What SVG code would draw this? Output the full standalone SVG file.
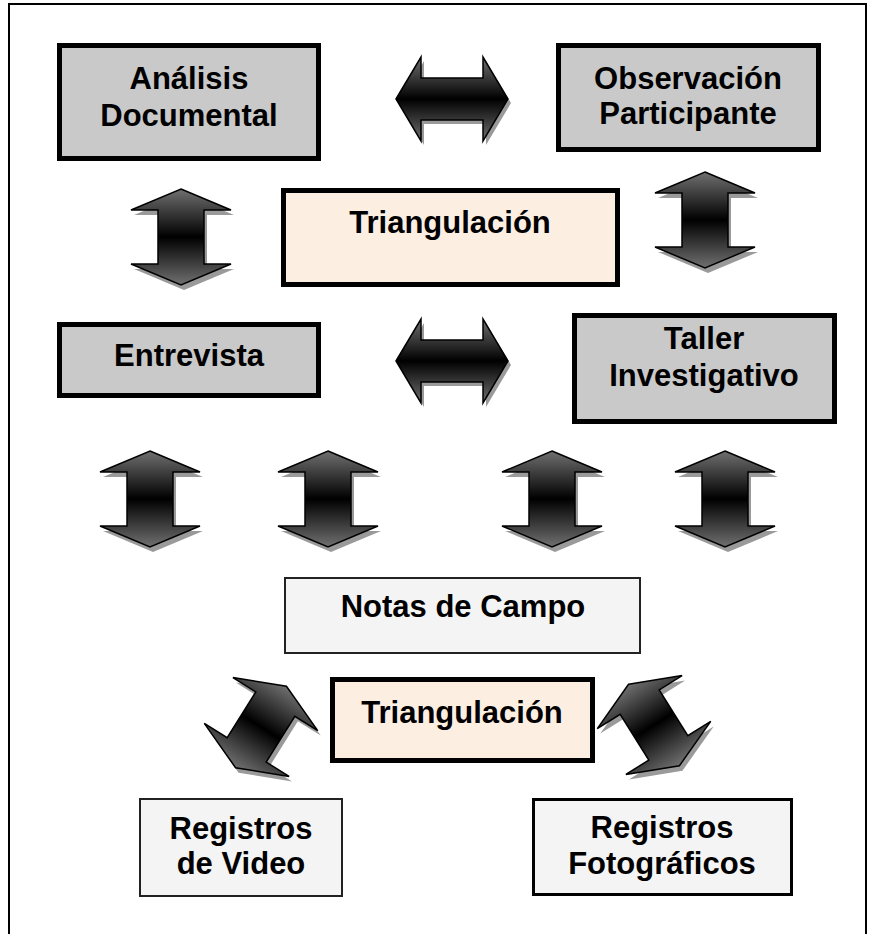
<svg xmlns="http://www.w3.org/2000/svg" xmlns:xlink="http://www.w3.org/1999/xlink" width="876" height="934" viewBox="0 0 876 934">
<style>
.lbl{font-family:"Liberation Sans",Arial,sans-serif;font-weight:bold;font-size:31px;fill:#000;text-anchor:middle}
.gray{fill:#c9c9c9;stroke:#000;stroke-width:5}
.peach{fill:#fdeee2;stroke:#000;stroke-width:5}
.light{fill:#f4f4f4;stroke:#222;stroke-width:2}
.arr{fill:url(#ag);stroke:#000;stroke-width:1.5;stroke-linejoin:miter}
.shd{fill:#9a9a9a;stroke:none}
</style>
<defs>
<linearGradient id="ag" x1="0" y1="0" x2="0" y2="1">
<stop offset="0" stop-color="#707070"/>
<stop offset="0.5" stop-color="#000"/>
<stop offset="1" stop-color="#707070"/>
</linearGradient>
<path id="v" d="M0,-48 L50,-27 L23,-27 L23,27 L50,27 L0,48 L-50,27 L-23,27 L-23,-27 L-50,-27 Z"/>
<path id="h" d="M-56,0 L-31,-42 L-31,-21 L31,-21 L31,-42 L56,0 L31,42 L31,21 L-31,21 L-31,42 Z"/>
</defs>
<rect x="0" y="0" width="876" height="934" fill="#fff"/>
<rect id="frame" x="9" y="4" width="857" height="940" fill="none" stroke="#000" stroke-width="2"/>

<g id="connectors">
<g transform="translate(452,99)"><use href="#h" class="shd" x="3" y="4"/><use href="#h" class="arr"/></g>
<g transform="translate(452,361)"><use href="#h" class="shd" x="3" y="4"/><use href="#h" class="arr"/></g>
<g transform="translate(181,237)"><use href="#v" class="shd" x="3" y="5"/><use href="#v" class="arr"/></g>
<g transform="translate(705,220)"><use href="#v" class="shd" x="3" y="5"/><use href="#v" class="arr"/></g>
<g transform="translate(150,499)"><use href="#v" class="shd" x="3" y="5"/><use href="#v" class="arr"/></g>
<g transform="translate(328,499)"><use href="#v" class="shd" x="3" y="5"/><use href="#v" class="arr"/></g>
<g transform="translate(552,499)"><use href="#v" class="shd" x="3" y="5"/><use href="#v" class="arr"/></g>
<g transform="translate(725,499)"><use href="#v" class="shd" x="3" y="5"/><use href="#v" class="arr"/></g>
<g transform="translate(261,727) rotate(32)"><use href="#v" class="shd" transform="rotate(-32) translate(3,5) rotate(32)"/><use href="#v" class="arr"/></g>
<g transform="translate(654,725) rotate(-32)"><use href="#v" class="shd" transform="rotate(32) translate(3,5) rotate(-32)"/><use href="#v" class="arr"/></g>
</g>

<g id="analisis">
<rect class="gray" x="59.5" y="45.5" width="259" height="113"/>
<text class="lbl" x="189" y="89">Análisis</text>
<text class="lbl" x="189" y="126">Documental</text>
</g>
<g id="observacion">
<rect class="gray" x="558.5" y="45.5" width="260" height="104"/>
<text class="lbl" x="688" y="89">Observación</text>
<text class="lbl" x="688" y="124">Participante</text>
</g>
<g id="triangulacion1">
<rect class="peach" x="283.5" y="190.5" width="334" height="94"/>
<text class="lbl" x="450" y="233">Triangulación</text>
</g>
<g id="entrevista">
<rect class="gray" x="59.5" y="324.5" width="259" height="71"/>
<text class="lbl" x="189" y="366">Entrevista</text>
</g>
<g id="taller">
<rect class="gray" x="574.5" y="315.5" width="260" height="106"/>
<text class="lbl" x="704" y="349">Taller</text>
<text class="lbl" x="704" y="386">Investigativo</text>
</g>
<g id="notas">
<rect class="light" x="285" y="578" width="355" height="75"/>
<text class="lbl" x="463" y="617">Notas de Campo</text>
</g>
<g id="triangulacion2">
<rect class="peach" x="332.5" y="679.5" width="260" height="81"/>
<text class="lbl" x="462" y="723">Triangulación</text>
</g>
<g id="video">
<rect class="light" x="140" y="799" width="202" height="97"/>
<text class="lbl" x="241" y="839">Registros</text>
<text class="lbl" x="241" y="874">de Video</text>
</g>
<g id="foto">
<rect class="light" x="533.5" y="799.5" width="258" height="95" style="stroke:#000;stroke-width:3"/>
<text class="lbl" x="662" y="838">Registros</text>
<text class="lbl" x="662" y="874">Fotográficos</text>
</g>
</svg>
